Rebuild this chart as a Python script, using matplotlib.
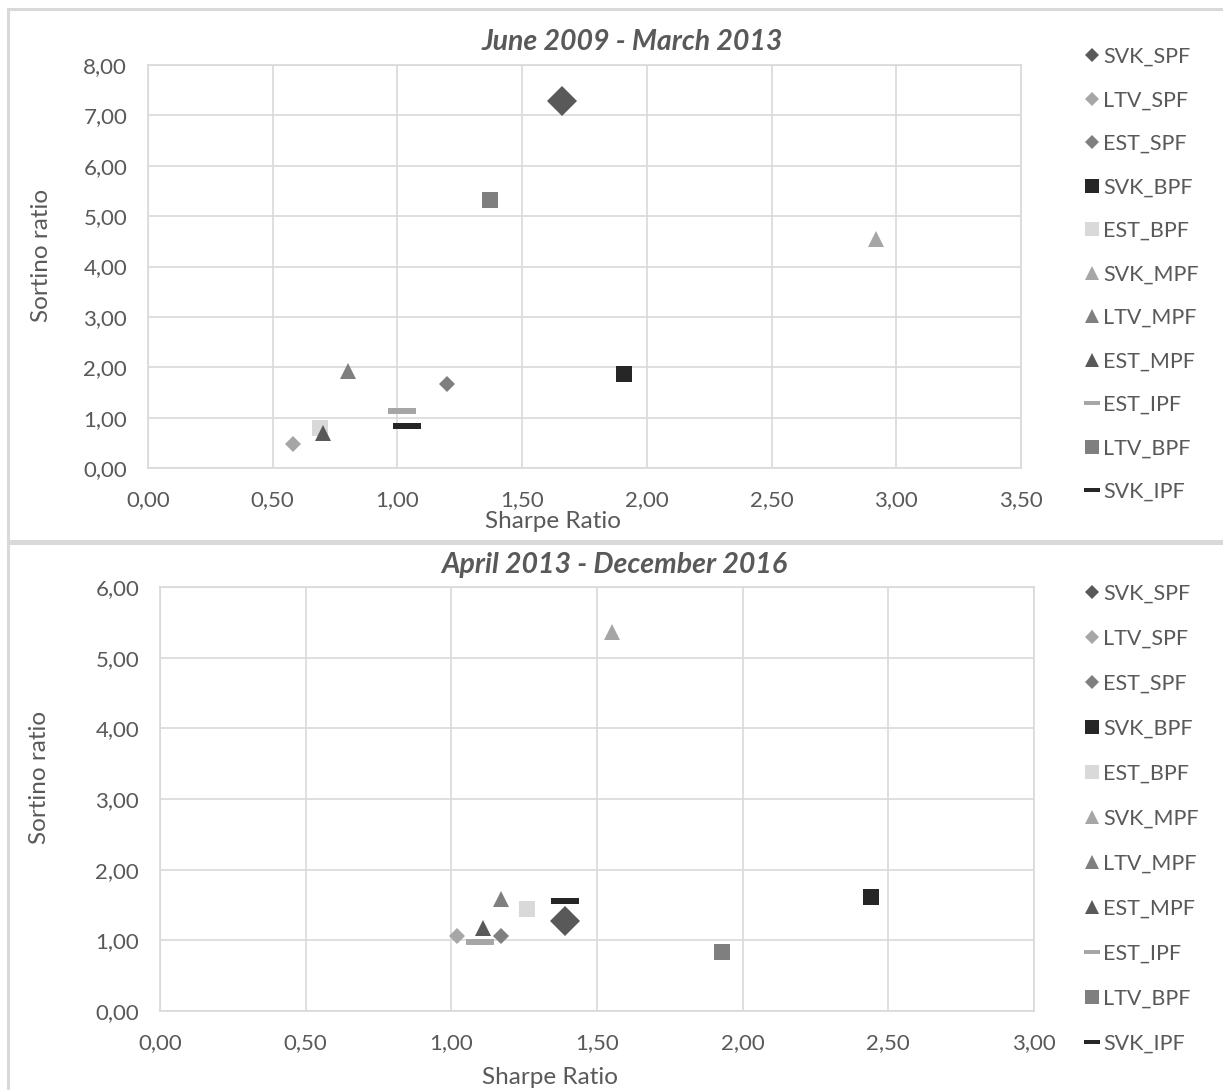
import matplotlib
matplotlib.use("Agg")
import matplotlib.pyplot as plt
from matplotlib.path import Path
from matplotlib.patches import Rectangle
from matplotlib.ticker import FuncFormatter, MultipleLocator

plt.rcParams['font.family'] = ['Lato', 'DejaVu Sans']

# series, in drawing order
names = ["SVK_SPF", "LTV_SPF", "EST_SPF", "SVK_BPF", "EST_BPF", "SVK_MPF",
         "LTV_MPF", "EST_MPF", "EST_IPF", "LTV_BPF", "SVK_IPF"]

# June 2009 - March 2013
sharpe_1 = [1.66, 0.58, 1.20, 1.91, 0.69, 2.92, 0.80, 0.70, 1.02, 1.37, 1.04]
sortino_1 = [7.28, 0.48, 1.67, 1.87, 0.79, 4.55, 1.93, 0.70, 1.13, 5.33, 0.83]

# April 2013 - December 2016
sharpe_2 = [1.39, 1.02, 1.17, 2.44, 1.26, 1.55, 1.17, 1.11, 1.10, 1.93, 1.39]
sortino_2 = [1.28, 1.06, 1.06, 1.61, 1.44, 5.37, 1.59, 1.18, 0.98, 0.84, 1.55]

# wide flat bar used for the IPF series
bar = Path([(-2, -0.5), (2, -0.5), (2, 0.5), (-2, 0.5), (-2, -0.5)],
           [Path.MOVETO, Path.LINETO, Path.LINETO, Path.LINETO, Path.CLOSEPOLY])

styles = {
    "SVK_SPF": ("D", "#595959", 15),
    "LTV_SPF": ("D", "#a6a6a6", 8),
    "EST_SPF": ("D", "#7f7f7f", 8),
    "SVK_BPF": ("s", "#262626", 11),
    "EST_BPF": ("s", "#d9d9d9", 11),
    "SVK_MPF": ("^", "#a6a6a6", 11),
    "LTV_MPF": ("^", "#7f7f7f", 11),
    "EST_MPF": ("^", "#595959", 11),
    "EST_IPF": (bar, "#a6a6a6", 20),
    "LTV_BPF": ("s", "#7f7f7f", 11),
    "SVK_IPF": (bar, "#262626", 20),
}
legend_size = {"D": 7.5, "s": 10, "^": 10.5}

W, H = 1223, 1090
fig = plt.figure(figsize=(W / 100, H / 100), dpi=100)

grid_c = "#d9d9d9"
text_c = "#595959"

# panel frames
fig.patches.append(Rectangle((8 / W, 1 - 541 / H), 1.2, (541 - 9) / H, transform=fig.transFigure,
                             fill=False, edgecolor=grid_c, linewidth=2.2))
fig.patches.append(Rectangle((8 / W, -0.1), 1.2, 0.1 + 1 - 543 / H, transform=fig.transFigure,
                             fill=False, edgecolor=grid_c, linewidth=2.2))


def comma(v, pos):
    return f"{v:.2f}".replace(".", ",")


def panel(box, xs, ys, xmax, ymax, title, title_xy, xlabel_xy, ylabel_xy, leg_xy, leg_space):
    l, t, r, b = box
    ax = fig.add_axes([l / W, 1 - b / H, (r - l) / W, (b - t) / H])
    for n, x, y in zip(names, xs, ys):
        m, c, s = styles[n]
        ax.plot([x], [y], linestyle="none", marker=m, color=c, markersize=s,
                markeredgewidth=0, label=n, zorder=3)
    ax.set_xlim(0, xmax)
    ax.set_ylim(0, ymax)
    ax.xaxis.set_major_locator(MultipleLocator(0.5))
    ax.yaxis.set_major_locator(MultipleLocator(1))
    ax.xaxis.set_major_formatter(FuncFormatter(comma))
    ax.yaxis.set_major_formatter(FuncFormatter(comma))
    ax.grid(True, color=grid_c, linewidth=1.2)
    ax.set_axisbelow(True)
    for sp in ax.spines.values():
        sp.set_color(grid_c)
        sp.set_linewidth(1.2)
    ax.tick_params(length=0, labelsize=16, labelcolor=text_c)
    ax.tick_params(axis="x", pad=16)
    ax.tick_params(axis="y", pad=15)

    fig.text(title_xy[0] / W, 1 - title_xy[1] / H, title, ha="center", va="center",
             fontsize=20.5, fontweight="bold", fontstyle="italic", color=text_c)
    fig.text(xlabel_xy[0] / W, 1 - xlabel_xy[1] / H, "Sharpe Ratio", ha="center", va="center",
             fontsize=17.5, color=text_c)
    fig.text(ylabel_xy[0] / W, 1 - ylabel_xy[1] / H, "Sortino ratio", ha="center", va="center",
             fontsize=17.5, color=text_c, rotation=90)

    leg = ax.legend(loc="upper left", bbox_to_anchor=(leg_xy[0] / W, 1 - leg_xy[1] / H),
                    bbox_transform=fig.transFigure, frameon=False, fontsize=15.5,
                    labelspacing=leg_space, handlelength=0.8, handletextpad=0.15,
                    borderpad=0, borderaxespad=0, labelcolor=text_c)
    for h, n in zip(leg.legend_handles, names):
        m = styles[n][0]
        h.set_markersize(legend_size.get(m, 12) if isinstance(m, str) else 12)
    return ax


panel((148, 65, 1021, 468), sharpe_1, sortino_1, 3.5, 8,
      "June 2009 - March 2013", (632, 42), (553, 522), (42, 255), (1083, 47), 1.09)
panel((160, 587, 1034, 1011), sharpe_2, sortino_2, 3.0, 6,
      "April 2013 - December 2016", (614, 565), (550, 1077), (40, 777), (1083, 584), 1.16)

fig.savefig("out.png", dpi=100)
